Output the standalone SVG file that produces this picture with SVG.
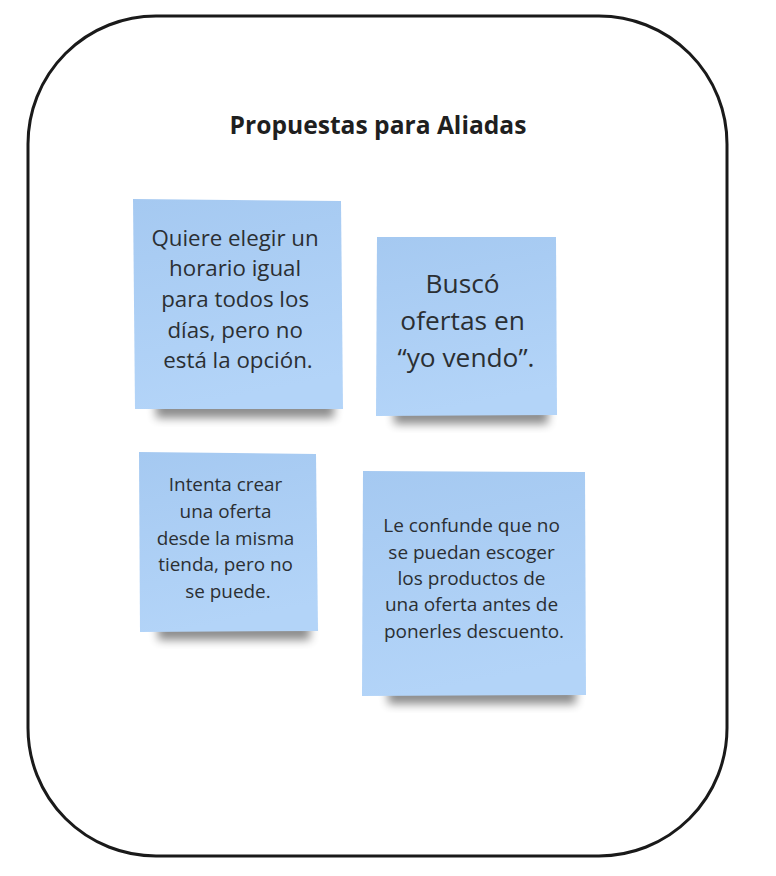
<svg xmlns="http://www.w3.org/2000/svg" width="776" height="876" viewBox="0 0 776 876">
  <style>
    .frame { fill: #ffffff; stroke: #1a1a1a; stroke-width: 3; }
    .title { font-family: "Open Sans", "Liberation Sans", sans-serif; font-weight: bold; font-size: 24.6px; fill: #1f1f1f; text-anchor: middle; }
    .txt { font-family: "Open Sans", "Liberation Sans", sans-serif; fill: #2b2f33; text-anchor: middle; }
    .note { fill: url(#noteGrad); }
    .shadow { fill: #000000; opacity: 0.45; filter: url(#blur); }
  </style>
  <defs>
    <linearGradient id="noteGrad" x1="0" y1="0" x2="0.2" y2="1">
      <stop offset="0" stop-color="#a5c9f1"/>
      <stop offset="1" stop-color="#b3d4f8"/>
    </linearGradient>
    <filter id="blur" x="-20%" y="-50%" width="140%" height="200%">
      <feGaussianBlur stdDeviation="5"/>
    </filter>
  </defs>
  <rect width="776" height="876" fill="#ffffff"/>
  <rect class="frame" x="28" y="16" width="699" height="840" rx="128" ry="128"/>
  <text class="title" x="378" y="134">Propuestas para Aliadas</text>

  <g id="note1">
    <rect class="shadow" x="156" y="400" width="178" height="18"/>
    <polygon class="note" points="133,199 341,201 343,409 135,409"/>
    <text class="txt" font-size="22.3">
      <tspan x="238" y="246">Quiere elegir un</tspan>
      <tspan x="238" y="276">horario igual</tspan>
      <tspan x="238" y="307">para todos los</tspan>
      <tspan x="238" y="338">días, pero no</tspan>
      <tspan x="238" y="368">está la opción.</tspan>
    </text>
  </g>

  <g id="note2">
    <rect class="shadow" x="394" y="406" width="154" height="18"/>
    <polygon class="note" points="377,237 556,237 557,415 376,416"/>
    <text class="txt" font-size="26.3">
      <tspan x="466" y="293">Buscó</tspan>
      <tspan x="466" y="330">ofertas en</tspan>
      <tspan x="466" y="367">“yo vendo”.</tspan>
    </text>
  </g>

  <g id="note3">
    <rect class="shadow" x="158" y="622" width="152" height="18"/>
    <polygon class="note" points="139,452 316,454 318,631 140,632"/>
    <text class="txt" font-size="18.9">
      <tspan x="228" y="491">Intenta crear</tspan>
      <tspan x="228" y="518">una oferta</tspan>
      <tspan x="228" y="545">desde la misma</tspan>
      <tspan x="228" y="571">tienda, pero no</tspan>
      <tspan x="228" y="598">se puede.</tspan>
    </text>
  </g>

  <g id="note4">
    <rect class="shadow" x="388" y="686" width="188" height="18"/>
    <polygon class="note" points="363,471 585,472 586,695 362,696"/>
    <text class="txt" font-size="19">
      <tspan x="474" y="532">Le confunde que no</tspan>
      <tspan x="474" y="559">se puedan escoger</tspan>
      <tspan x="474" y="585">los productos de</tspan>
      <tspan x="474" y="611">una oferta antes de</tspan>
      <tspan x="474" y="638">ponerles descuento.</tspan>
    </text>
  </g>

  <g id="connectors"/>
</svg>
